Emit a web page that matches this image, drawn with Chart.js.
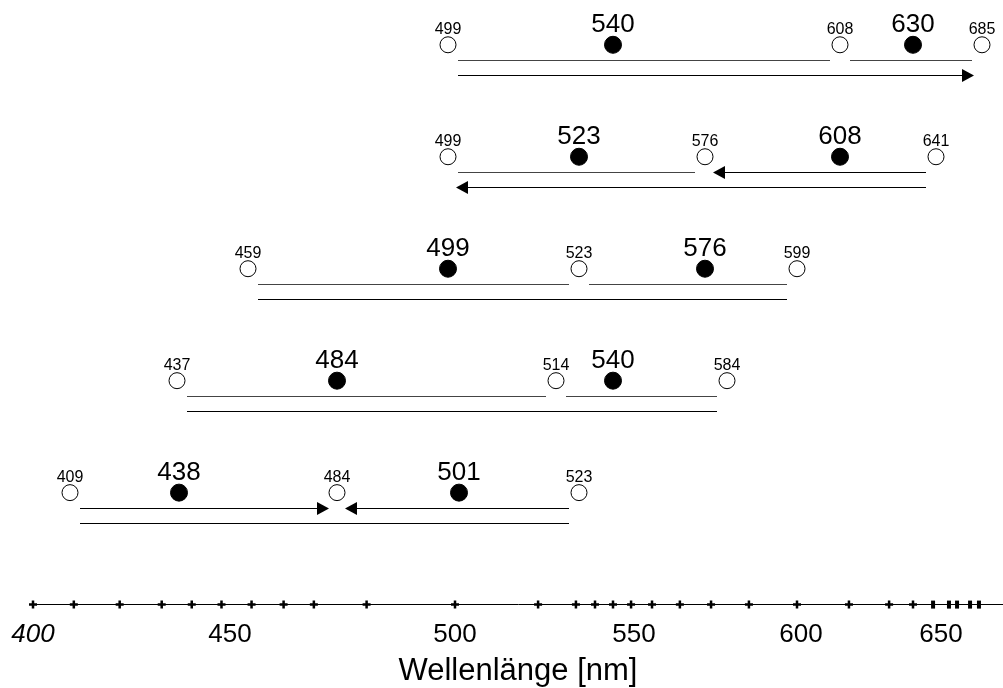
<!DOCTYPE html>
<html>
<head>
<meta charset="utf-8">
<script src="https://cdn.jsdelivr.net/npm/chart.js@4.4.1/dist/chart.umd.min.js"></script>
<style>
  html, body { margin: 0; padding: 0; background: #fff; }
  #wrap { width: 1003px; height: 688px; position: relative; }
</style>
</head>
<body>
<div id="wrap"><canvas id="chart"></canvas></div>
<script>
// rows from top (1) to bottom (5); the wavelength axis sits on row 6
const rows = [1, 2, 3, 4, 5];
const axisRow = 6;

// open circles (range limits) and filled circles (maxima), nm
const openNm = [
  [499, 608, 685],
  [499, 576, 641],
  [459, 523, 599],
  [437, 514, 584],
  [409, 484, 523]
];
const peakNm = [
  [540, 630],
  [523, 608],
  [499, 576],
  [484, 540],
  [438, 501]
];

// segments: [from, to, arrowhead at "to"]
const upperSegs = [
  [[499, 608, false], [608, 685, false]],
  [[499, 576, false], [641, 576, true]],
  [[459, 523, false], [523, 599, false]],
  [[437, 514, false], [514, 584, false]],
  [[409, 484, true], [523, 484, true]]
];
const lowerSegs = [
  [499, 685, true],
  [641, 499, true],
  [459, 599, false],
  [437, 584, false],
  [409, 523, false]
];

// marks on the wavelength axis, nm
const axisCross = [400, 410, 422, 433, 441, 448, 460, 469, 477.5, 488, 500, 511.6, 521.8, 531,
  540, 548.6, 556.6, 566.8, 578.2, 588.7, 599, 610.7, 622.8, 630];
const axisBars = [639.6, 656.8, 663.7, 674.8, 682.4];
const tickNm = [400, 450, 500, 550, 600, 650];

// the drawn axis is not linear: anchor wavelengths and their place on a 970 px wide axis
const warpNm  = [400, 409, 437, 438, 450, 459, 484, 499, 500, 501, 514, 523, 540, 550, 576, 584, 599, 600, 608, 630, 641, 650, 685, 705];
const warpPos = [0, 37, 144, 146, 197, 215, 304, 415, 422, 426, 523, 546, 580, 601, 672, 694, 764, 768, 807, 880, 903, 908, 949, 970];

function warp(v) {
  const n = warpNm, p = warpPos, L = n.length;
  let i = 1;
  while (i < L - 1 && v > n[i]) i++;
  const t = (v - n[i - 1]) / (n[i] - n[i - 1]);
  return (p[i - 1] + t * (p[i] - p[i - 1])) / p[L - 1];
}
function unwarp(f) {
  const n = warpNm, p = warpPos, L = n.length;
  const q = f * p[L - 1];
  let i = 1;
  while (i < L - 1 && q > p[i]) i++;
  const t = (q - p[i - 1]) / (p[i] - p[i - 1]);
  return n[i - 1] + t * (n[i] - n[i - 1]);
}

class WarpScale extends Chart.LinearScale {
  getPixelForValue(value) { return this.getPixelForDecimal(warp(value)); }
  getValueForPixel(pixel) { return unwarp(this.getDecimalForPixel(pixel)); }
}
WarpScale.id = 'warp';
WarpScale.defaults = Chart.LinearScale.defaults;
Chart.register(WarpScale);

Chart.defaults.font.family = "'Liberation Sans', Arial, Helvetica, sans-serif";
Chart.defaults.color = '#000';

const openPts = [], peakPts = [];
rows.forEach((r, i) => {
  openNm[i].forEach(v => openPts.push({ x: v, y: r }));
  peakNm[i].forEach(v => peakPts.push({ x: v, y: r }));
});

// lines with optional arrowheads, placed through the scales
const segPlugin = {
  id: 'segs',
  beforeDatasetsDraw(chart) {
    const { ctx, scales: { x, y } } = chart;
    const inset = 10, head = 12, half = 6.5;
    function seg(s, py, color) {
      const x1 = x.getPixelForValue(s[0]), x2 = x.getPixelForValue(s[1]);
      const d = Math.sign(x2 - x1);
      const a = x1 + d * inset, b = x2 - d * (s[2] ? 8 : inset);
      ctx.strokeStyle = color;
      ctx.fillStyle = '#000';
      ctx.lineWidth = 1.2;
      ctx.beginPath();
      ctx.moveTo(a, py);
      ctx.lineTo(s[2] ? b - d * head : b, py);
      ctx.stroke();
      if (s[2]) {
        ctx.beginPath();
        ctx.moveTo(b, py);
        ctx.lineTo(b - d * head, py - half);
        ctx.lineTo(b - d * head, py + half);
        ctx.closePath();
        ctx.fill();
      }
    }
    ctx.save();
    rows.forEach((r, i) => {
      const cy = y.getPixelForValue(r);
      upperSegs[i].forEach(s => seg(s, Math.round(cy + 15) + 0.5, s[2] ? '#000' : '#444'));
      seg(lowerSegs[i], Math.round(cy + 30) + 0.5, '#000');
    });
    ctx.restore();
  }
};

// wavelength numbers above the circles
const labelPlugin = {
  id: 'nmLabels',
  afterDatasetsDraw(chart) {
    const ctx = chart.ctx;
    ctx.save();
    ctx.fillStyle = '#000';
    ctx.textAlign = 'center';
    ctx.textBaseline = 'alphabetic';
    [[0, 16, 11], [1, 26, 13]].forEach(([di, size, off]) => {
      const ds = chart.data.datasets[di];
      ctx.font = size + "px 'Liberation Sans', Arial, sans-serif";
      chart.getDatasetMeta(di).data.forEach((el, k) => {
        ctx.fillText(String(ds.data[k].x), el.x, el.y - off);
      });
    });
    ctx.restore();
  }
};

new Chart(document.getElementById('chart'), {
  type: 'scatter',
  data: {
    datasets: [
      {
        data: openPts, pointStyle: 'circle', pointRadius: 8, borderWidth: 1,
        backgroundColor: '#fff', borderColor: '#000'
      },
      {
        data: peakPts, pointStyle: 'circle', pointRadius: 8.5, borderWidth: 1,
        backgroundColor: '#000', borderColor: '#000'
      },
      {
        data: axisCross.map(v => ({ x: v, y: axisRow })), pointStyle: 'cross',
        pointRadius: 4, borderWidth: 2.5, borderColor: '#000', clip: false
      },
      {
        data: axisBars.map(v => ({ x: v, y: axisRow })), pointStyle: 'line', rotation: 90,
        pointRadius: 4, borderWidth: 4, borderColor: '#000', clip: false
      }
    ]
  },
  options: {
    responsive: true,
    maintainAspectRatio: false,
    devicePixelRatio: 1,
    animation: false,
    events: [],
    layout: { autoPadding: false, padding: { left: 33, right: 0, top: 0, bottom: 0 } },
    plugins: { legend: { display: false }, tooltip: { enabled: false } },
    scales: {
      x: {
        type: 'warp',
        position: 'bottom',
        min: 400,
        max: 705,
        afterBuildTicks: s => { s.ticks = tickNm.map(v => ({ value: v })); },
        afterFit: s => { s.paddingLeft = 0; s.paddingRight = 0; },
        grid: { display: false, drawTicks: false },
        border: { display: true, color: '#000', width: 1 },
        ticks: {
          autoSkip: false,
          maxRotation: 0,
          padding: 15,
          color: '#000',
          callback: v => String(v),
          font: c => ({ size: 26, style: c.tick && c.tick.value === 400 ? 'italic' : 'normal' })
        },
        title: {
          display: true,
          text: 'Wellenlänge [nm]',
          color: '#000',
          font: { size: 31 },
          padding: { top: -13, bottom: -2 }
        }
      },
      y: {
        type: 'linear',
        display: false,
        reverse: true,
        min: 0.6,
        max: 6
      }
    }
  },
  plugins: [segPlugin, labelPlugin]
});
</script>
</body>
</html>
